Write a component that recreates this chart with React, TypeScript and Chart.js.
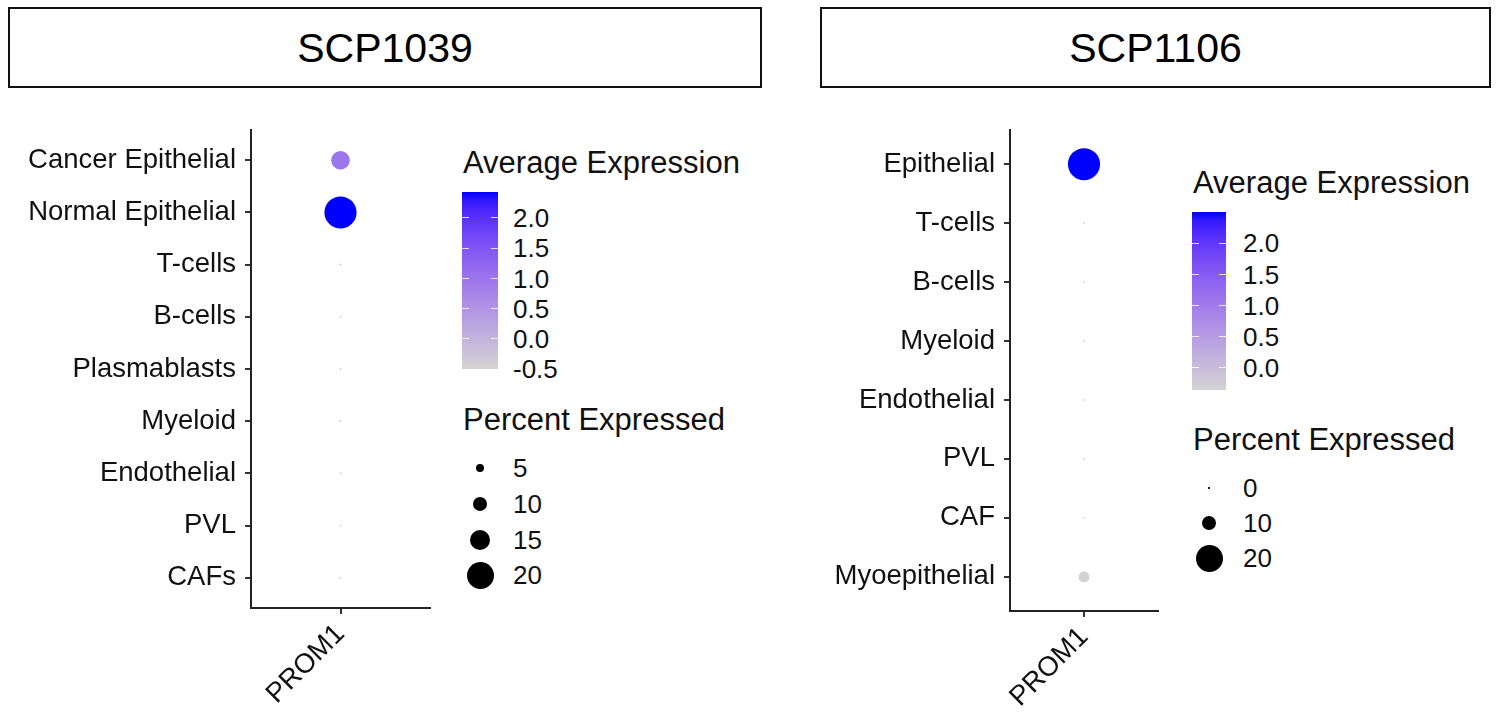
import React, { useEffect, useRef } from "react";
import { Chart, registerables } from "chart.js";
Chart.register(...registerables);

const FONT = "'Liberation Sans', Arial, Helvetica, sans-serif";
const TEXT = "#111111";

const genes = ["PROM1"];

const scp1039Categories = ["Cancer Epithelial", "Normal Epithelial", "T-cells", "B-cells", "Plasmablasts", "Myeloid", "Endothelial", "PVL", "CAFs"];
const scp1039AvgExp = [0.98, 2.43, -0.49, -0.5, -0.48, -0.49, -0.48, -0.47, -0.5];
const scp1039PctExp = [13.5, 24, 0.6, 0.5, 0.5, 0.6, 0.5, 0.4, 0.5];
const scp1039ColorTicks = [2.0, 1.5, 1.0, 0.5, 0.0, -0.5];
const scp1039SizeTicks = [5, 10, 15, 20];

const scp1106Categories = ["Epithelial", "T-cells", "B-cells", "Myeloid", "Endothelial", "PVL", "CAF", "Myoepithelial"];
const scp1106AvgExp = [2.5, -0.36, -0.36, -0.36, -0.36, -0.36, -0.36, -0.34];
const scp1106PctExp = [24, 0.4, 0.4, 0.4, 0.4, 0.4, 0.4, 7.5];
const scp1106ColorTicks = [2.0, 1.5, 1.0, 0.5, 0.0];
const scp1106SizeTicks = [0, 10, 20];

const LOW = [211, 211, 211];
const HIGH = [0, 0, 255];

function toLab(rgb: number[]) {
  const lin = (c: number) => {
    c /= 255;
    return c <= 0.04045 ? c / 12.92 : Math.pow((c + 0.055) / 1.055, 2.4);
  };
  const R = lin(rgb[0]), G = lin(rgb[1]), B = lin(rgb[2]);
  const X = (0.4124 * R + 0.3576 * G + 0.1805 * B) / 0.95047;
  const Y = 0.2126 * R + 0.7152 * G + 0.0722 * B;
  const Z = (0.0193 * R + 0.1192 * G + 0.9505 * B) / 1.08883;
  const f = (t: number) => (t > 0.008856 ? Math.cbrt(t) : 7.787 * t + 16 / 116);
  const fx = f(X), fy = f(Y), fz = f(Z);
  return [116 * fy - 16, 500 * (fx - fy), 200 * (fy - fz)];
}
function fromLab(lab: number[]) {
  const fy = (lab[0] + 16) / 116, fx = fy + lab[1] / 500, fz = fy - lab[2] / 200;
  const finv = (t: number) => (t > 0.206893 ? t * t * t : (t - 16 / 116) / 7.787);
  const X = finv(fx) * 0.95047, Y = finv(fy), Z = finv(fz) * 1.08883;
  const R = 3.2406 * X - 1.5372 * Y - 0.4986 * Z;
  const G = -0.9689 * X + 1.8758 * Y + 0.0415 * Z;
  const B = 0.0557 * X - 0.204 * Y + 1.057 * Z;
  const g = (c: number) => {
    c = c <= 0.0031308 ? 12.92 * c : 1.055 * Math.pow(c, 1 / 2.4) - 0.055;
    return Math.round(Math.max(0, Math.min(1, c)) * 255);
  };
  return `rgb(${g(R)},${g(G)},${g(B)})`;
}
const LAB_LOW = toLab(LOW);
const LAB_HIGH = toLab(HIGH);
function colorAt(t: number) {
  t = Math.max(0, Math.min(1, t));
  return fromLab([0, 1, 2].map((k) => LAB_LOW[k] + (LAB_HIGH[k] - LAB_LOW[k]) * t));
}
function radiusFor(pct: number) {
  return 0.7 + 0.64 * pct;
}

type PanelGeom = {
  canvasLeft: number;
  canvasTop: number;
  canvasWidth: number;
  canvasHeight: number;
  yWidth: number;
  padTop: number;
  padRight: number;
  xHeight: number;
};

const AXIS_FONT = 27.5;

function DotChart({ cats, avg, pct, geom }: { cats: string[]; avg: number[]; pct: number[]; geom: PanelGeom }) {
  const ref = useRef<HTMLCanvasElement | null>(null);
  useEffect(() => {
    if (!ref.current) return;
    const min = Math.min(...avg), max = Math.max(...avg);
    const n = cats.length;
    const chart = new Chart(ref.current, {
      type: "bubble",
      data: {
        datasets: [
          {
            data: cats.map((_, i) => ({ x: 1, y: i, r: radiusFor(pct[i]) })),
            backgroundColor: avg.map((v) => colorAt((v - min) / (max - min))),
            borderWidth: 0,
            hoverBorderWidth: 0,
          } as any,
        ],
      },
      options: {
        animation: false,
        responsive: false,
        maintainAspectRatio: false,
        events: [],
        layout: { padding: { top: geom.padTop, right: geom.padRight, left: 0, bottom: 0 } },
        plugins: { legend: { display: false }, tooltip: { enabled: false } },
        scales: {
          x: {
            type: "linear",
            min: 0.4,
            max: 1.6,
            afterBuildTicks: (s: any) => {
              s.ticks = genes.map((_, i) => ({ value: i + 1 }));
            },
            afterFit: (s: any) => {
              s.height = geom.xHeight;
            },
            ticks: {
              autoSkip: false,
              minRotation: 45,
              maxRotation: 45,
              padding: 4,
              color: TEXT,
              font: { family: FONT, size: AXIS_FONT },
              callback: (v: any) => genes[Math.round(Number(v)) - 1] ?? "",
            },
            grid: { display: true, drawOnChartArea: false, drawTicks: true, tickLength: 6, color: "#333", lineWidth: 2 },
            border: { display: true, color: "#222", width: 2 },
          },
          y: {
            type: "linear",
            reverse: true,
            min: -0.58,
            max: n - 1 + 0.58,
            afterBuildTicks: (s: any) => {
              s.ticks = cats.map((_, i) => ({ value: i }));
            },
            afterFit: (s: any) => {
              s.width = geom.yWidth;
            },
            ticks: {
              autoSkip: false,
              padding: 9,
              color: TEXT,
              font: { family: FONT, size: AXIS_FONT },
              callback: (v: any) => cats[Math.round(Number(v))] ?? "",
            },
            grid: { display: true, drawOnChartArea: false, drawTicks: true, tickLength: 6, color: "#333", lineWidth: 2 },
            border: { display: true, color: "#222", width: 2 },
          },
        },
      } as any,
    });
    return () => chart.destroy();
  }, []);
  return (
    <canvas
      ref={ref}
      width={geom.canvasWidth}
      height={geom.canvasHeight}
      style={{ position: "absolute", left: geom.canvasLeft, top: geom.canvasTop, width: geom.canvasWidth, height: geom.canvasHeight }}
    />
  );
}

function Txt({ x, baseline, size, children }: { x: number; baseline: number; size: number; children: any }) {
  return (
    <div
      style={{
        position: "absolute",
        left: x,
        top: baseline - 0.8465 * size,
        fontFamily: FONT,
        fontSize: size,
        lineHeight: `${size}px`,
        color: TEXT,
        whiteSpace: "nowrap",
      }}
    >
      {children}
    </div>
  );
}

function Header({ left, width, title }: { left: number; width: number; title: string }) {
  return (
    <>
      <div style={{ position: "absolute", left, top: 7, width, height: 81, boxSizing: "border-box", border: "2px solid #111", background: "#fff" }} />
      <div
        style={{
          position: "absolute",
          left,
          width,
          top: 63 - 0.8465 * 41,
          fontFamily: FONT,
          fontSize: 41,
          lineHeight: "41px",
          color: "#000",
          textAlign: "center",
        }}
      >
        {title}
      </div>
    </>
  );
}

function Legend({
  x, avgTitleBase, barTop, barBottom, barWidth, min, max, colorTicks, labelX, pctTitleBase, sizeTicks, sizeYs, dotX,
}: {
  x: number; avgTitleBase: number; barTop: number; barBottom: number; barWidth: number; min: number; max: number;
  colorTicks: number[]; labelX: number; pctTitleBase: number; sizeTicks: number[]; sizeYs: number[]; dotX: number;
}) {
  const stops: string[] = [];
  for (let i = 0; i <= 20; i++) stops.push(`${colorAt(i / 20)} ${(i / 20) * 100}%`);
  const yOf = (v: number) => barBottom - ((v - min) / (max - min)) * (barBottom - barTop);
  return (
    <>
      <Txt x={x + 1} baseline={avgTitleBase} size={31}>Average Expression</Txt>
      <div
        style={{
          position: "absolute",
          left: x,
          top: barTop,
          width: barWidth,
          height: barBottom - barTop,
          background: `linear-gradient(to top, ${stops.join(",")})`,
        }}
      />
      {colorTicks.map((v) => (
        <React.Fragment key={v}>
          <div style={{ position: "absolute", left: x, top: yOf(v) - 0.5, width: 7, height: 1, background: "rgba(255,255,255,0.8)" }} />
          <div style={{ position: "absolute", left: x + barWidth - 7, top: yOf(v) - 0.5, width: 7, height: 1, background: "rgba(255,255,255,0.8)" }} />
          <Txt x={labelX} baseline={yOf(v) + 9.3} size={26}>{v.toFixed(1)}</Txt>
        </React.Fragment>
      ))}
      <Txt x={x + 1} baseline={pctTitleBase} size={31}>Percent Expressed</Txt>
      {sizeTicks.map((s, i) => {
        const r = radiusFor(s);
        return (
          <React.Fragment key={s}>
            <div
              style={{
                position: "absolute",
                left: dotX - r,
                top: sizeYs[i] - r,
                width: 2 * r,
                height: 2 * r,
                borderRadius: "50%",
                background: "#000",
              }}
            />
            <Txt x={labelX} baseline={sizeYs[i] + 9.3} size={26}>{String(s)}</Txt>
          </React.Fragment>
        );
      })}
    </>
  );
}

export default function App() {
  const min1 = Math.min(...scp1039AvgExp), max1 = Math.max(...scp1039AvgExp);
  const min2 = Math.min(...scp1106AvgExp), max2 = Math.max(...scp1106AvgExp);
  return (
    <div style={{ position: "fixed", left: 0, top: 0, width: 1497, height: 712, background: "#fff", overflow: "hidden" }}>
      <Header left={8} width={754} title="SCP1039" />
      <Header left={820} width={671} title="SCP1106" />
      <DotChart
        cats={scp1039Categories}
        avg={scp1039AvgExp}
        pct={scp1039PctExp}
        geom={{ canvasLeft: 0, canvasTop: 100, canvasWidth: 450, canvasHeight: 612, yWidth: 251, padTop: 30, padRight: 20, xHeight: 104 }}
      />
      <DotChart
        cats={scp1106Categories}
        avg={scp1106AvgExp}
        pct={scp1106PctExp}
        geom={{ canvasLeft: 760, canvasTop: 100, canvasWidth: 420, canvasHeight: 612, yWidth: 250, padTop: 30, padRight: 22, xHeight: 101 }}
      />
      <Legend
        x={462}
        avgTitleBase={173}
        barTop={192}
        barBottom={369}
        barWidth={36}
        min={min1}
        max={max1}
        colorTicks={scp1039ColorTicks}
        labelX={513}
        pctTitleBase={430}
        sizeTicks={scp1039SizeTicks}
        sizeYs={[468, 504, 540, 575]}
        dotX={480}
      />
      <Legend
        x={1192}
        avgTitleBase={193}
        barTop={212}
        barBottom={390}
        barWidth={34}
        min={min2}
        max={max2}
        colorTicks={scp1106ColorTicks}
        labelX={1243}
        pctTitleBase={450}
        sizeTicks={scp1106SizeTicks}
        sizeYs={[488, 523, 558]}
        dotX={1209}
      />
    </div>
  );
}
